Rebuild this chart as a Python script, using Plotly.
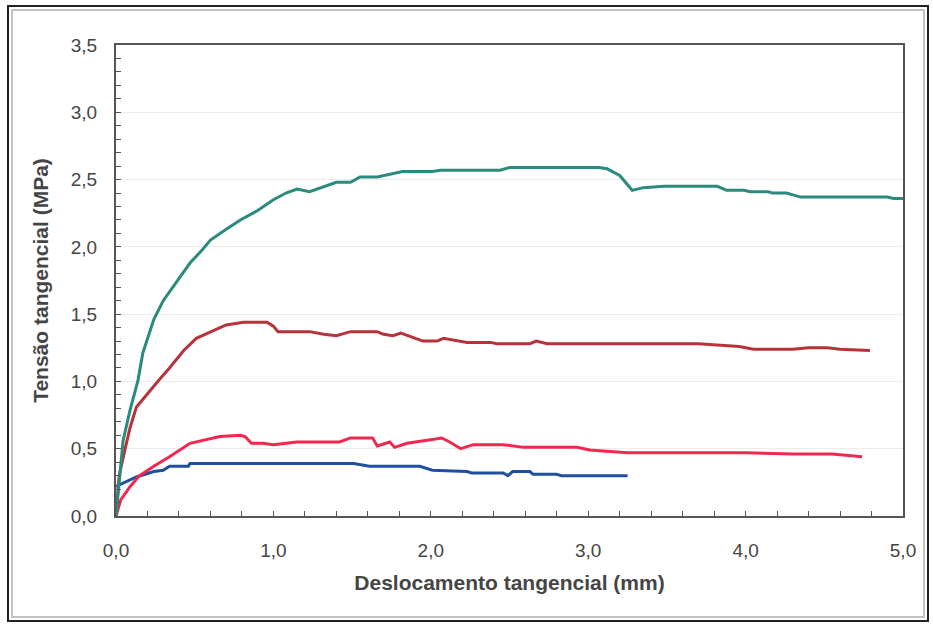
import plotly.graph_objects as go

# Shear stress vs. tangential displacement, four test curves
green_x = [0, 0.02, 0.045, 0.09, 0.14, 0.17, 0.24, 0.30, 0.36, 0.40, 0.47, 0.55, 0.60, 0.70,
           0.79, 0.90, 1.00, 1.08, 1.15, 1.23, 1.30, 1.40, 1.49, 1.55, 1.66, 1.75, 1.82,
           2.01, 2.06, 2.44, 2.50, 3.07, 3.12, 3.20, 3.28, 3.35, 3.48, 3.82, 3.88, 3.99,
           4.03, 4.14, 4.17, 4.26, 4.35, 4.90, 4.94, 5.00]
green_y = [0, 0.25, 0.56, 0.79, 1.01, 1.21, 1.46, 1.60, 1.70, 1.76, 1.88, 1.98, 2.05, 2.13,
           2.20, 2.27, 2.35, 2.40, 2.43, 2.41, 2.44, 2.48, 2.48, 2.52, 2.52, 2.54, 2.56,
           2.56, 2.57, 2.57, 2.59, 2.59, 2.58, 2.53, 2.42, 2.44, 2.45, 2.45, 2.42, 2.42,
           2.41, 2.41, 2.40, 2.40, 2.37, 2.37, 2.36, 2.36]

darkred_x = [0, 0.02, 0.06, 0.09, 0.13, 0.20, 0.28, 0.34, 0.43, 0.51, 0.60, 0.70, 0.81, 0.96,
             1.00, 1.03, 1.23, 1.32, 1.40, 1.49, 1.66, 1.70, 1.76, 1.81, 1.95, 2.04, 2.08,
             2.14, 2.23, 2.38, 2.42, 2.63, 2.67, 2.74, 3.70, 3.96, 4.05, 4.30, 4.40, 4.52,
             4.60, 4.79]
darkred_y = [0, 0.30, 0.51, 0.66, 0.81, 0.91, 1.02, 1.10, 1.23, 1.32, 1.37, 1.42, 1.44, 1.44,
             1.41, 1.37, 1.37, 1.35, 1.34, 1.37, 1.37, 1.35, 1.34, 1.36, 1.30, 1.30, 1.32,
             1.31, 1.29, 1.29, 1.28, 1.28, 1.30, 1.28, 1.28, 1.26, 1.24, 1.24, 1.25, 1.25,
             1.24, 1.23]

pink_x = [0, 0.03, 0.09, 0.15, 0.24, 0.34, 0.47, 0.55, 0.66, 0.79, 0.82, 0.86, 0.93, 1.00,
          1.15, 1.42, 1.49, 1.63, 1.66, 1.74, 1.77, 1.85, 1.95, 2.07, 2.12, 2.19, 2.27,
          2.46, 2.59, 2.93, 3.01, 3.25, 3.71, 4.00, 4.30, 4.55, 4.74]
pink_y = [0, 0.12, 0.22, 0.30, 0.37, 0.44, 0.54, 0.56, 0.59, 0.60, 0.59, 0.54, 0.54, 0.53,
          0.55, 0.55, 0.58, 0.58, 0.52, 0.55, 0.51, 0.54, 0.56, 0.58, 0.55, 0.50, 0.53,
          0.53, 0.51, 0.51, 0.49, 0.47, 0.47, 0.47, 0.46, 0.46, 0.44]

blue_x = [0.0, 0.13, 0.24, 0.30, 0.34, 0.46, 0.47, 1.51, 1.61, 1.93, 2.01, 2.23, 2.26, 2.46,
          2.49, 2.52, 2.63, 2.65, 2.80, 2.83, 3.25]
blue_y = [0.22, 0.29, 0.33, 0.34, 0.37, 0.37, 0.39, 0.39, 0.37, 0.37, 0.34, 0.33, 0.32, 0.32,
          0.30, 0.33, 0.33, 0.31, 0.31, 0.30, 0.30]

x_ticks = [0, 1, 2, 3, 4, 5]
x_labels = ["0,0", "1,0", "2,0", "3,0", "4,0", "5,0"]
y_ticks = [0, 0.5, 1.0, 1.5, 2.0, 2.5, 3.0, 3.5]
y_labels = ["0,0", "0,5", "1,0", "1,5", "2,0", "2,5", "3,0", "3,5"]

series = [
    (blue_x, blue_y, "#1f4f9e"),
    (pink_x, pink_y, "#f2274f"),
    (darkred_x, darkred_y, "#b8323c"),
    (green_x, green_y, "#2a8b7d"),
]

fig = go.Figure()
for xs, ys, color in series:
    fig.add_trace(go.Scatter(x=xs, y=ys, mode="lines",
                             line=dict(color=color, width=3), showlegend=False))

axis_color = "#555555"
tick_font = dict(family="Liberation Sans, Arial, sans-serif", size=19, color="#454545")
title_font = dict(family="Liberation Sans, Arial, sans-serif", size=21, color="#454545")

fig.update_xaxes(
    range=[0, 5], tickvals=x_ticks, ticktext=x_labels, tickfont=tick_font,
    showline=True, linecolor=axis_color, linewidth=2, mirror=True,
    showgrid=False, zeroline=False,
    ticks="inside", ticklen=5, tickcolor=axis_color,
    minor=dict(dtick=0.2, ticks="inside", ticklen=5, tickcolor=axis_color, showgrid=False),
    ticklabelstandoff=16,
    title=dict(text="<b>Deslocamento tangencial (mm)</b>", font=title_font, standoff=16),
)
fig.update_yaxes(
    range=[0, 3.5], tickvals=y_ticks, ticktext=y_labels, tickfont=tick_font,
    showline=True, linecolor=axis_color, linewidth=2, mirror=True,
    showgrid=True, gridcolor="#ececec", gridwidth=1, zeroline=False,
    ticks="inside", ticklen=5, tickcolor=axis_color,
    minor=dict(dtick=0.1, ticks="inside", ticklen=5, tickcolor=axis_color, showgrid=False),
    ticklabelstandoff=13,
    title=dict(text="<b>Tensão tangencial (MPa)</b>", font=title_font, standoff=16),
)

# Plot area spans 116..903 px horizontally and 45..516 px vertically
L, R, T, B = 116, 30, 45, 112
W, H = 933, 628
pw, ph = W - L - R, H - T - B


def px_to_paper(x, y):
    return (x - L) / pw, (H - B - y) / ph


def frame(x0, y0, x1, y1, color, width):
    a = px_to_paper(x0, y0)
    b = px_to_paper(x1, y1)
    return dict(type="rect", xref="paper", yref="paper", x0=a[0], y0=b[1], x1=b[0], y1=a[1],
                line=dict(color=color, width=width), fillcolor="rgba(0,0,0,0)", layer="below")


fig.update_layout(
    width=W, height=H,
    margin=dict(l=L, r=R, t=T, b=B),
    paper_bgcolor="white", plot_bgcolor="white",
    shapes=[frame(8, 6, 928, 621, "#222222", 2), frame(12, 10, 924, 617, "#b0b0b0", 1.5)],
)

fig.write_html("out.html")
